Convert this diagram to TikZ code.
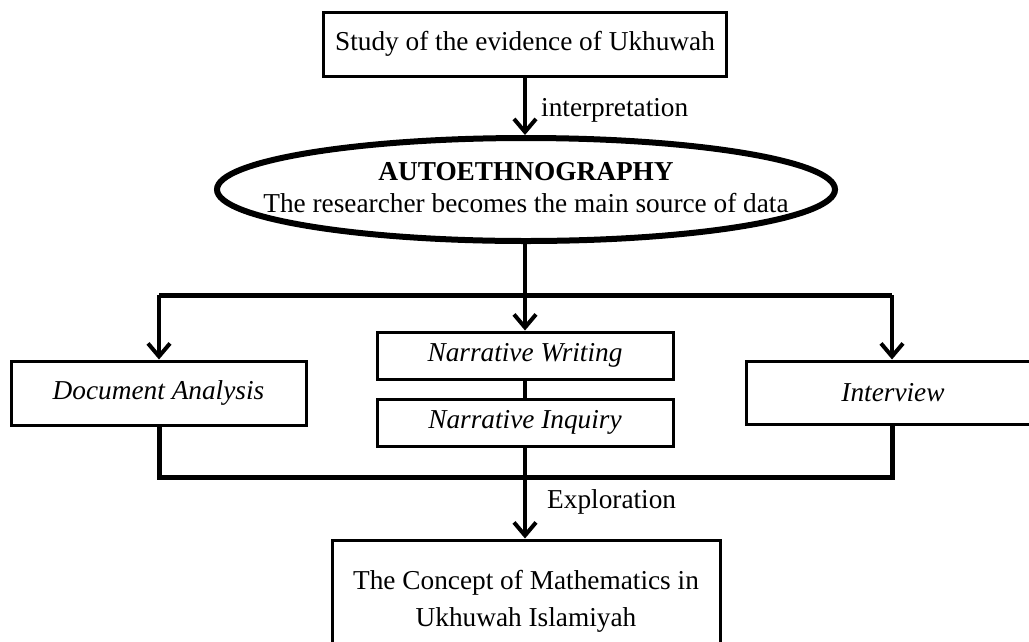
\documentclass[tikz,border=0pt]{standalone}
\usepackage{fontspec}
\setmainfont{Liberation Serif}
\usetikzlibrary{shapes.geometric,arrows.meta}
\begin{document}
\begin{tikzpicture}[x=1pt,y=1pt,
  txt/.style={font=\fontsize{27.3}{33}\selectfont},
  box/.style={draw,line width=3pt,inner sep=0pt,txt,align=center},
  itbox/.style={box,font=\fontsize{27.3}{33}\selectfont\itshape},
  conn/.style={line width=4pt},
  bus/.style={line width=5pt},
  arr/.style={conn,-{Straight Barb[length=13pt,width=22pt,line width=4pt]}},
  lbl/.style={txt,anchor=west,inner sep=0pt}]
\path[use as bounding box] (0,0) rectangle (1029,-641);
\clip (0,0) rectangle (1029,-641);
\fill[white] (0,0) rectangle (1029,-641);
\node[box,minimum width=403pt,minimum height=64pt] (top) at (525,-44) {Study of the evidence of Ukhuwah};
\node[draw,ellipse,line width=6pt,minimum width=618pt,minimum height=103pt,inner sep=0pt,txt] (auto) at (526,-189.5)
  {\makebox[0pt]{\begin{tabular}{@{}c@{}}\textbf{AUTOETHNOGRAPHY}\\[-1pt]The researcher becomes the main source of data\end{tabular}}};
\node[itbox,minimum width=296pt,minimum height=47pt] (nw) at (525,-355.5) {Narrative Writing};
\node[itbox,minimum width=296pt,minimum height=47pt] (ni) at (525,-422.5) {Narrative Inquiry};
\node[itbox,minimum width=295pt,minimum height=64pt] (doc) at (158.5,-393) {Document Analysis};
\node[itbox,minimum width=294pt,minimum height=63pt] (iv) at (893,-392.5) {Interview};
\node[box,minimum width=388pt,minimum height=124pt,text depth=8pt] (fin) at (526,-602) {The Concept of Mathematics in\\[4pt]Ukhuwah Islamiyah};
\coordinate (busC) at (525,-295);
\coordinate (busL) at (159,-295);
\coordinate (busR) at (892,-295);
\coordinate (botC) at (525,-477);
\draw[arr] (top.south) -- (top.south |- auto.north);
\node[lbl] (interp) at (541,-110) {interpretation};
\draw[conn] (auto.south -| busC) -- (busC);
\draw[bus] (busL) -- (busR);
\draw[arr] (busL) -- (busL |- doc.north);
\draw[arr] (busC) -- (nw.north);
\draw[arr] (busR) -- (busR |- iv.north);
\draw[conn] (nw.south) -- (ni.north);
\draw[bus] (busL |- doc.south) -- (busL |- botC) -- (busR |- botC) -- (busR |- iv.south);
\draw[conn] (ni.south) -- (botC);
\draw[arr] (botC) -- (botC |- fin.north);
\node[lbl] (expl) at (547,-502) {Exploration};
\end{tikzpicture}
\end{document}
